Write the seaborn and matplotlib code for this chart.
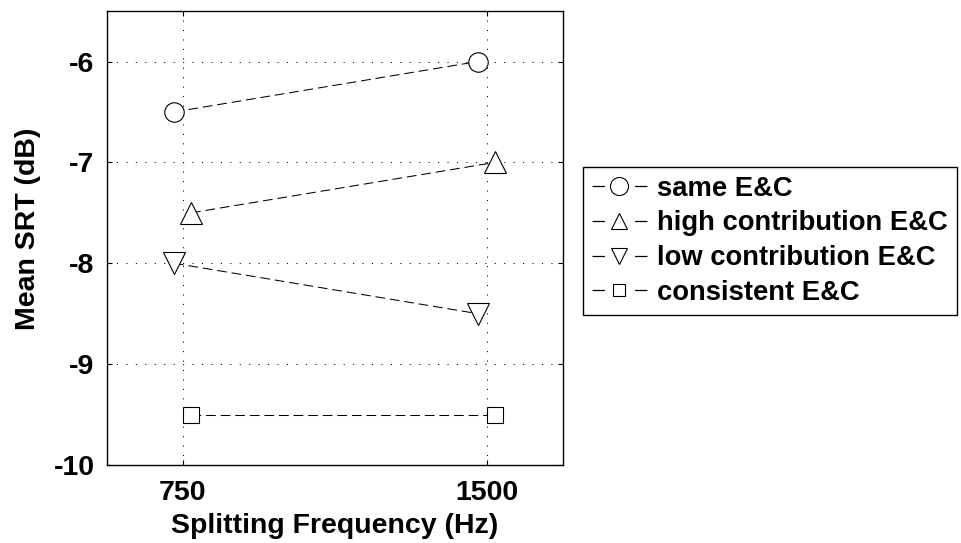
import matplotlib
matplotlib.use("Agg")
import matplotlib.pyplot as plt
from matplotlib.lines import Line2D
import seaborn as sns
import pandas as pd

# ---- data ----
freqs = [750, 1500]
series_names = ["same E&C", "high contribution E&C", "low contribution E&C", "consistent E&C"]
same_ec = [-6.5, -6.0]
high_ec = [-7.5, -7.0]
low_ec = [-8.0, -8.5]
consistent_ec = [-9.5, -9.5]
x_offsets = [-22, 20, -22, 20]   # small horizontal jitter used in the original
markers = ["o", "^", "v", "s"]
marker_sizes = [14, 15.5, 15.5, 11]
legend_marker_sizes = [13, 12, 12, 8.5]
yticks = [-10, -9, -8, -7, -6]

sns.set_theme(style="white")
plt.rcParams["font.family"] = ["Liberation Sans", "DejaVu Sans"]
plt.rcParams["font.weight"] = "bold"
plt.rcParams["lines.scale_dashes"] = False
plt.rcParams["text.color"] = "black"
plt.rcParams["axes.labelcolor"] = "black"

fig = plt.figure(figsize=(9.62, 5.43), dpi=100)
ax = fig.add_axes([0.1112, 0.1436, 0.474, 0.836])

values = [same_ec, high_ec, low_ec, consistent_ec]
for name, vals, off, m, ms in zip(series_names, values, x_offsets, markers, marker_sizes):
    df = pd.DataFrame({"freq": [f + off for f in freqs], "srt": vals})
    sns.lineplot(data=df, x="freq", y="srt", ax=ax, color="black",
                 linewidth=0.75, linestyle=(0, (7, 3.5)), marker=m,
                 markersize=ms, markerfacecolor="white", markeredgecolor="black",
                 markeredgewidth=0.8, zorder=3, legend=False)

ax.set_xlim(562.5, 1687.5)
ax.set_ylim(-10, -5.5)
ax.set_xticks(freqs)
ax.set_xticklabels([str(f) for f in freqs])
ax.set_yticks(yticks)
ax.set_yticklabels([str(v) for v in yticks])
ax.grid(True, color="black", linestyle=(0, (0.8, 6)), linewidth=0.7)
ax.set_axisbelow(True)
ax.tick_params(direction="in", length=3.6, width=0.8, top=True, right=True,
               bottom=True, left=True, labelsize=20.5, colors="black")
ax.tick_params(axis="y", pad=9)
ax.tick_params(axis="x", pad=11)
for s in ax.spines.values():
    s.set_color("black")
    s.set_linewidth(1.0)

ax.set_xlabel("Splitting Frequency (Hz)", fontsize=20.5, fontweight="bold",
              labelpad=5, color="black")
ax.set_ylabel("Mean SRT (dB)", fontsize=20.5, fontweight="bold", color="black")
ax.yaxis.set_label_coords(-0.145, 0.52)

handles = [Line2D([0], [0], color="black", linewidth=0.9, linestyle=(0, (9, 21.6)),
                  marker=m, markersize=ms, markerfacecolor="white",
                  markeredgecolor="black", markeredgewidth=0.8)
           for m, ms in zip(markers, legend_marker_sizes)]
leg = fig.legend(handles, series_names, loc="center left", bbox_to_anchor=(0.606, 0.5565),
                 frameon=True, fancybox=False, edgecolor="black", framealpha=1,
                 prop={"size": 19.7, "weight": "bold"}, handlelength=2.01,
                 handletextpad=0.365, borderpad=0.33, labelspacing=0.32,
                 borderaxespad=0)
leg.get_frame().set_linewidth(1.0)

fig.savefig("out.png", dpi=100)
